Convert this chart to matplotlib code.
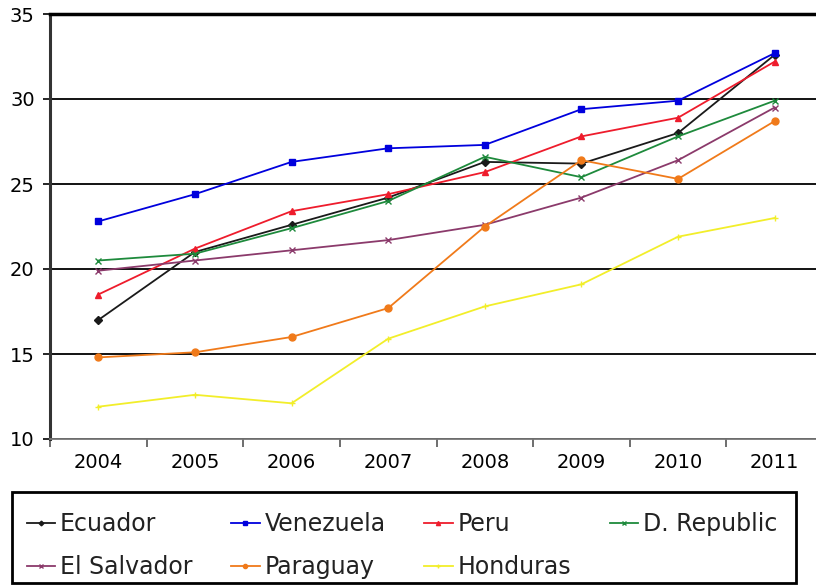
import matplotlib
matplotlib.use("Agg")
import matplotlib.pyplot as plt
from matplotlib.patches import Rectangle
import numpy as np

years = ["2004", "2005", "2006", "2007", "2008", "2009", "2010", "2011"]

ecuador     = [17.0, 21.0, 22.6, 24.2, 26.3, 26.2, 28.0, 32.6]
venezuela   = [22.8, 24.4, 26.3, 27.1, 27.3, 29.4, 29.9, 32.7]
peru        = [18.5, 21.2, 23.4, 24.4, 25.7, 27.8, 28.9, 32.2]
d_republic  = [20.5, 20.9, 22.4, 24.0, 26.6, 25.4, 27.8, 29.9]
el_salvador = [19.9, 20.5, 21.1, 21.7, 22.6, 24.2, 26.4, 29.5]
paraguay    = [14.8, 15.1, 16.0, 17.7, 22.5, 26.4, 25.3, 28.7]
honduras    = [11.9, 12.6, 12.1, 15.9, 17.8, 19.1, 21.9, 23.0]

series = [
    ("Ecuador",     ecuador,     "#1a1a1a", "D", 4),
    ("Venezuela",   venezuela,   "#0000dd", "s", 5),
    ("Peru",        peru,        "#ee1c2c", "^", 5),
    ("D. Republic", d_republic,  "#1e8a3c", "x", 4),
    ("El Salvador", el_salvador, "#8b3a6b", "x", 4),
    ("Paraguay",    paraguay,    "#f07a1a", "o", 5),
    ("Honduras",    honduras,    "#f2ee2a", "+", 4),
]

plt.rcParams["font.family"] = ["DejaVu Sans"]

fig = plt.figure(figsize=(8.16, 5.85), dpi=100)
ax = fig.add_axes([50 / 816, 1 - 439 / 585, 773 / 816, 425 / 585])

x = np.arange(len(years))
lines = {}
for name, vals, col, mk, ms in series:
    ln, = ax.plot(x, vals, color=col, linewidth=1.3, marker=mk, markersize=ms,
                  markeredgewidth=1.0, label=name)
    lines[name] = ln

ax.set_xlim(-0.5, len(years) - 0.5)
ax.set_ylim(10, 35)
ax.set_yticks([10, 15, 20, 25, 30, 35])
ax.set_xticks(x)
ax.set_xticklabels(years)
ax.set_xticks(np.arange(len(years) + 1) - 0.5, minor=True)
ax.tick_params(axis="x", which="major", length=0, pad=10, labelsize=14)
ax.tick_params(axis="x", which="minor", length=6, width=1.2, color="#555555")
ax.tick_params(axis="y", length=5, width=1.2, labelsize=14, pad=6)

ax.grid(axis="y", color="black", linewidth=1.3)
ax.set_axisbelow(True)
ax.spines["right"].set_visible(False)
ax.spines["top"].set_linewidth(2.5)
ax.spines["left"].set_linewidth(2.2)
ax.spines["left"].set_color("#333333")
ax.spines["bottom"].set_color("#777777")
ax.spines["bottom"].set_linewidth(1.3)

# legend fills column-wise, so interleave to read row by row
order = ["Ecuador", "El Salvador", "Venezuela", "Paraguay", "Peru", "Honduras", "D. Republic"]
leg = fig.legend([lines[n] for n in order], order,
                 loc="upper left", bbox_to_anchor=(27 / 816, 1 - 512 / 585, 750 / 816, 0.0),
                 borderaxespad=0, borderpad=0, mode="expand", ncol=4, frameon=False,
                 fontsize=17, handlelength=1.2, handletextpad=0.2,
                 labelspacing=0.82, markerscale=0.6)
for t in leg.get_texts():
    t.set_color("#222222")

# box round the legend
fig.patches.append(Rectangle((12 / 816, 2 / 585), 784 / 816, 91 / 585,
                             transform=fig.transFigure, fill=False,
                             edgecolor="black", linewidth=2))

fig.savefig("out.png", dpi=100)
